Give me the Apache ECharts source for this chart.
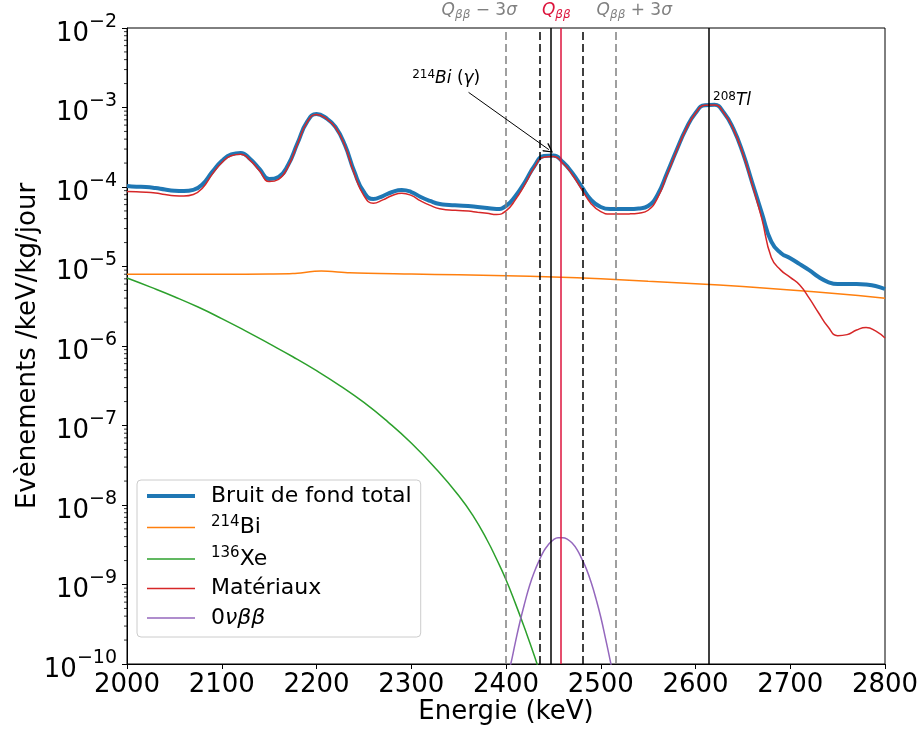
<!DOCTYPE html>
<html><head><meta charset="utf-8">
<script src="https://cdn.jsdelivr.net/npm/echarts@6/dist/echarts.min.js"></script>
<style>html,body{margin:0;padding:0;background:#fff}#c{width:922px;height:733px}</style>
</head><body><div id="c"></div>
<script>
const FF = "'DejaVu Sans', sans-serif";

// ---------- data ----------
const energies = [2000,2010,2020,2030,2040,2050,2060,2070,2080,2090,2100,2110,2120,2130,2140,2150,2160,2170,2180,2190,2200,2210,2220,2230,2240,2250,2260,2270,2280,2290,2300,2310,2320,2330,2340,2350,2360,2370,2380,2390,2400,2410,2420,2430,2440,2450,2460,2470,2480,2490,2500,2510,2520,2530,2540,2550,2560,2570,2580,2590,2600,2610,2620,2630,2640,2650,2660,2670,2680,2690,2700,2710,2720,2730,2740,2750,2760,2770,2780,2790,2800];

const totalBkg = [1.03e-4,1.01e-4,1.0e-4,9.7e-5,9.3e-5,9.0e-5,8.9e-5,9.2e-5,1.09e-4,1.55e-4,
2.12e-4,2.57e-4,2.68e-4,2.25e-4,1.68e-4,1.26e-4,1.34e-4,1.89e-4,3.57e-4,6.58e-4,
8.28e-4,7.38e-4,5.69e-4,3.37e-4,1.55e-4,8.65e-5,7.06e-5,7.7e-5,8.65e-5,9.16e-5,
8.65e-5,7.48e-5,6.67e-5,6.11e-5,5.94e-5,5.85e-5,5.77e-5,5.6e-5,5.44e-5,5.28e-5,
5.77e-5,7.7e-5,1.156e-4,1.84e-4,2.45e-4,2.49e-4,2.06e-4,1.5e-4,1.0e-4,6.85e-5,
5.6e-5,5.28e-5,5.28e-5,5.28e-5,5.37e-5,5.77e-5,8.0e-5,1.5e-4,2.9e-4,5.37e-4,
8.53e-4,1.07e-3,1.08e-3,8.6e-4,5.37e-4,2.68e-4,1.12e-4,4.71e-5,2.06e-5,1.48e-5,
1.27e-5,1.07e-5,9.0e-6,7.38e-6,6.38e-6,6.03e-6,6.03e-6,6.03e-6,5.94e-6,5.69e-6,
5.21e-6];

const materiaux = [8.78e-5,8.7e-5,8.62e-5,8.4e-5,8.04e-5,7.78e-5,7.72e-5,8.06e-5,9.8e-5,1.45e-4,
2.02e-4,2.47e-4,2.58e-4,2.16e-4,1.59e-4,1.17e-4,1.25e-4,1.80e-4,3.48e-4,6.49e-4,
8.19e-4,7.29e-4,5.6e-4,3.28e-4,1.46e-4,7.81e-5,6.23e-5,6.88e-5,7.83e-5,8.35e-5,
7.84e-5,6.68e-5,5.87e-5,5.32e-5,5.15e-5,5.06e-5,4.99e-5,4.82e-5,4.67e-5,4.51e-5,
5.0e-5,6.94e-5,1.08e-4,1.765e-4,2.375e-4,2.416e-4,1.986e-4,1.427e-4,9.28e-5,6.13e-5,
4.89e-5,4.58e-5,4.58e-5,4.59e-5,4.69e-5,5.1e-5,7.3e-5,1.435e-4,2.84e-4,5.31e-4,
8.47e-4,1.064e-3,1.074e-3,8.54e-4,5.31e-4,2.62e-4,1.06e-4,4.0e-5,1.3e-5,9.0e-6,
7.3e-6,5.85e-6,4.0e-6,2.6e-6,1.73e-6,1.35e-6,1.39e-6,1.59e-6,1.71e-6,1.55e-6,
1.26e-6];

const bi214Energy = [2000,2100,2150,2175,2205,2235,2300,2350,2400,2450,2500,2550,2600,2650,2700,2750,2800];
const bi214Rate   = [8.0e-6,8.0e-6,8.05e-6,8.15e-6,8.75e-6,8.35e-6,8.05e-6,7.85e-6,7.65e-6,7.4e-6,7.0e-6,6.5e-6,6.05e-6,5.6e-6,5.05e-6,4.55e-6,4.0e-6];

const xe136Energy = [2000,2025,2050,2075,2100,2125,2150,2175,2200,2225,2250,2275,2300,2325,2350,2365,2380,2390,2400,2410,2420,2430,2440];
const xe136Rate   = [7.16e-6,5.5e-6,4.17e-6,3.09e-6,2.21e-6,1.55e-6,1.07e-6,7.33e-7,4.9e-7,3.16e-7,1.95e-7,1.12e-7,6.03e-8,2.95e-8,1.32e-8,7.4e-9,3.63e-9,2.09e-9,1.15e-9,5.75e-10,2.75e-10,1.26e-10,5.4e-11];

const bb0vEnergy = [2400,2405,2410,2415,2420,2425,2430,2435,2440,2445,2450,2455,2460,2465,2470,2475,2480,2485,2490,2495,2500,2505,2510,2515];
const bb0vRate   = [6e-11,1.0e-10,1.9e-10,3.5e-10,6.0e-10,9.8e-10,1.45e-9,2.0e-9,2.65e-9,3.2e-9,3.65e-9,3.87e-9,3.88e-9,3.7e-9,3.3e-9,2.75e-9,2.1e-9,1.55e-9,1.05e-9,6.6e-10,3.9e-10,2.1e-10,1.1e-10,5.5e-11];

// reference energies (keV)
const refEnergy = {qMinus3s: 2400, roiLow: 2435.2, biGamma: 2447.7, qbb: 2458, roiHigh: 2480.8, qPlus3s: 2516, tlGamma: 2614.5};

const xTicks = [2000, 2800, 100];          // min, max, step
const yRange = [1e-10, 1e-2];
const minorMantissa = [2,3,4,5,6,7,8,9];
const minorDecade = [-10,-9,-8,-7,-6,-5,-4,-3];

// annotation anchors (data units)
const biTextAt = [2301, 2.28e-3];
const biArrowFrom = [2360.5, 1.55e-3];
const biArrowTo = [2445.3, 2.95e-4];
const tlTextAt = [2618.5, 1.21e-3];
const topLabelAt = {minus: 2371.8, qbb: 2453.1, plus: 2535.4};

const seriesNames = ['Bruit de fond total', '²¹⁴Bi', '¹³⁶Xe', 'Matériaux', '0νββ'];

// ---------- build ----------
const pairs = (xs, ys) => xs.map((x, i) => [x, ys[i]]);
const minorTickData = [];
minorDecade.forEach(d => minorMantissa.forEach(m => minorTickData.push([xTicks[0], m * Math.pow(10, d)])));

const legendText = {
  'Bruit de fond total': '{sp| }{t|Bruit de fond total}',
  '²¹⁴Bi': '{sp| }{u|214}{t|Bi}',
  '¹³⁶Xe': '{sp| }{u|136}{t|Xe}',
  'Matériaux': '{sp| }{t|Matériaux}',
  '0νββ': '{sp| }{t|0}{i|νββ}'
};

const chevron = 'path://M5,0 L10,8 L9,9 L5,2 L1,9 L0,8 Z';

const option = {
  backgroundColor: '#fff',
  animation: false,
  textStyle: {fontFamily: FF},
  grid: {left: 127, right: 37, top: 28, bottom: 69, show: true, borderColor: '#000', borderWidth: 1, backgroundColor: 'transparent', outerBoundsMode: 'none'},
  xAxis: {
    type: 'value', min: xTicks[0], max: xTicks[1], interval: xTicks[2],
    axisLine: {show: true, onZero: false, lineStyle: {color: '#000', width: 1}},
    axisTick: {show: true, inside: false, length: 5, lineStyle: {color: '#000', width: 1}},
    splitLine: {show: false},
    axisLabel: {color: '#000', fontSize: 26, fontFamily: FF, margin: 8, hideOverlap: false, showMinLabel: true, showMaxLabel: true,
      formatter: v => String(v)},
    name: 'Energie (keV)', nameLocation: 'middle', nameGap: 35, nameMoveOverlap: false,
    nameTextStyle: {color: '#000', fontSize: 26, fontFamily: FF}
  },
  yAxis: {
    type: 'log', logBase: 10, min: yRange[0], max: yRange[1], splitNumber: 8,
    axisLine: {show: true, onZero: false, lineStyle: {color: '#000', width: 1}},
    axisTick: {show: true, inside: false, length: 5, lineStyle: {color: '#000', width: 1}},
    minorTick: {show: false},
    splitLine: {show: false},
    axisLabel: {
      margin: 10, hideOverlap: false, showMinLabel: true, showMaxLabel: true,
      formatter: v => '{b|10}{s|−' + (-Math.round(Math.log10(v))) + '}',
      rich: {
        b: {fontSize: 26, fontFamily: FF, color: '#000', padding: [12, 0, 0, 0]},
        s: {fontSize: 19, fontFamily: FF, color: '#000', padding: [0, 0, 12, 0]}
      }
    },
    name: 'Evènements /keV/kg/jour', nameLocation: 'middle', nameGap: 86, nameMoveOverlap: false,
    nameTextStyle: {color: '#000', fontSize: 26, fontFamily: FF}
  },
  legend: {
    data: seriesNames, orient: 'vertical', left: 137, top: 480,
    padding: [5, 9, 8, 8], itemWidth: 48, itemHeight: 14, itemGap: 7.5,
    backgroundColor: 'rgba(255,255,255,0.8)', borderColor: '#cccccc', borderWidth: 1, borderRadius: 4,
    selectedMode: false,
    itemStyle: {color: 'rgba(0,0,0,0)', borderColor: 'rgba(0,0,0,0)', borderWidth: 0, opacity: 0},
    lineStyle: {width: 'inherit'},
    formatter: n => legendText[n],
    textStyle: {
      fontFamily: FF, fontSize: 22, color: '#000',
      rich: {
        sp: {width: 11, fontSize: 22},
        t: {fontSize: 22, lineHeight: 26, fontFamily: FF, color: '#000'},
        i: {fontSize: 22, lineHeight: 26, fontFamily: FF, fontStyle: 'italic', color: '#000'},
        u: {fontSize: 15, lineHeight: 12, verticalAlign: 'top', fontFamily: FF, color: '#000'}
      }
    }
  },
  series: [
    {name: seriesNames[0], type: 'line', data: pairs(energies, totalBkg), smooth: 0.5, symbol: 'none', color: '#1f77b4', lineStyle: {color: '#1f77b4', width: 4}, z: 2},
    {name: seriesNames[1], type: 'line', data: pairs(bi214Energy, bi214Rate), smooth: 0.3, symbol: 'none', color: '#ff7f0e', lineStyle: {color: '#ff7f0e', width: 1.5}, z: 2},
    {name: seriesNames[2], type: 'line', data: pairs(xe136Energy, xe136Rate), smooth: 0.5, symbol: 'none', color: '#2ca02c', lineStyle: {color: '#2ca02c', width: 1.5}, z: 2},
    {name: seriesNames[3], type: 'line', data: pairs(energies, materiaux), smooth: 0.5, symbol: 'none', color: '#d62728', lineStyle: {color: '#d62728', width: 1.5}, z: 2},
    {name: seriesNames[4], type: 'line', data: pairs(bb0vEnergy, bb0vRate), smooth: 0.5, symbol: 'none', color: '#9467bd', lineStyle: {color: '#9467bd', width: 1.5}, z: 2},
    {
      name: 'refs', type: 'line', data: [], z: 4, silent: true,
      markLine: {
        silent: true, symbol: ['none', 'none'], label: {show: false}, animation: false,
        data: [
          {xAxis: refEnergy.qMinus3s, lineStyle: {color: '#808080', type: [8, 4], width: 1.5}},
          {xAxis: refEnergy.qPlus3s, lineStyle: {color: '#808080', type: [8, 4], width: 1.5}},
          {xAxis: refEnergy.roiLow, lineStyle: {color: '#000', type: [8, 4], width: 1.5}},
          {xAxis: refEnergy.roiHigh, lineStyle: {color: '#000', type: [8, 4], width: 1.5}},
          {xAxis: refEnergy.biGamma, lineStyle: {color: '#000', type: 'solid', width: 1.5}},
          {xAxis: refEnergy.qbb, lineStyle: {color: '#dc143c', type: 'solid', width: 1.5}},
          {xAxis: refEnergy.tlGamma, lineStyle: {color: '#000', type: 'solid', width: 1.5}}
        ]
      }
    },
    {
      name: 'arrow', type: 'line', data: [], z: 5, silent: true,
      markLine: {
        silent: true, symbol: ['none', chevron], symbolSize: [10, 10], label: {show: false}, animation: false,
        lineStyle: {color: '#000', type: 'solid', width: 1},
        itemStyle: {color: '#000'},
        data: [[{coord: biArrowFrom}, {coord: biArrowTo}]]
      }
    },
    {
      name: 'minorTicks', type: 'custom', data: minorTickData, silent: true, clip: false, z: 6,
      renderItem: (params, api) => {
        const p = api.coord([api.value(0), api.value(1)]);
        return {type: 'line', shape: {x1: p[0] - 3, y1: p[1], x2: p[0], y2: p[1]}, style: {stroke: '#000', lineWidth: 0.8}};
      }
    }
  ]
};

const chart = echarts.init(document.getElementById('c'), null, {renderer: 'canvas'});
chart.setOption(option);

const px = (x, y) => chart.convertToPixel({xAxisIndex: 0, yAxisIndex: 0}, [x, y]);
const topY = px(xTicks[0], yRange[1])[1] - 17;
const qRich = {
  q: {fontSize: 17, lineHeight: 20, fontStyle: 'italic', fontFamily: FF},
  s: {fontSize: 12, lineHeight: 10, verticalAlign: 'bottom', fontStyle: 'italic', fontFamily: FF},
  n: {fontSize: 17, lineHeight: 20, fontFamily: FF}
};
const annRich = {
  it: {fontSize: 17, lineHeight: 20, fontStyle: 'italic', fontFamily: FF, fill: '#000'},
  n: {fontSize: 17, lineHeight: 20, fontFamily: FF, fill: '#000'},
  u: {fontSize: 12, lineHeight: 8, verticalAlign: 'top', fontFamily: FF, fill: '#000'}
};
const biP = px(biTextAt[0], biTextAt[1]);
const tlP = px(tlTextAt[0], tlTextAt[1]);
chart.setOption({
  graphic: [
    {type: 'text', x: px(topLabelAt.minus, 1e-3)[0], y: topY, silent: true,
      style: {text: '{q|Q}{s|ββ}{n| − 3}{q|σ}', rich: qRich, fill: '#808080', align: 'center', verticalAlign: 'middle'}},
    {type: 'text', x: px(topLabelAt.qbb, 1e-3)[0], y: topY, silent: true,
      style: {text: '{q|Q}{s|ββ}', rich: qRich, fill: '#dc143c', align: 'center', verticalAlign: 'middle'}},
    {type: 'text', x: px(topLabelAt.plus, 1e-3)[0], y: topY, silent: true,
      style: {text: '{q|Q}{s|ββ}{n| + 3}{q|σ}', rich: qRich, fill: '#808080', align: 'center', verticalAlign: 'middle'}},
    {type: 'text', x: biP[0], y: biP[1], silent: true,
      style: {text: '{u|214}{it|Bi}{n| (}{it|γ}{n|)}', rich: annRich, fill: '#000', align: 'left', verticalAlign: 'middle'}},
    {type: 'text', x: tlP[0], y: tlP[1], silent: true,
      style: {text: '{u|208}{it|Tl}', rich: annRich, fill: '#000', align: 'left', verticalAlign: 'middle'}}
  ]
});
</script></body></html>
